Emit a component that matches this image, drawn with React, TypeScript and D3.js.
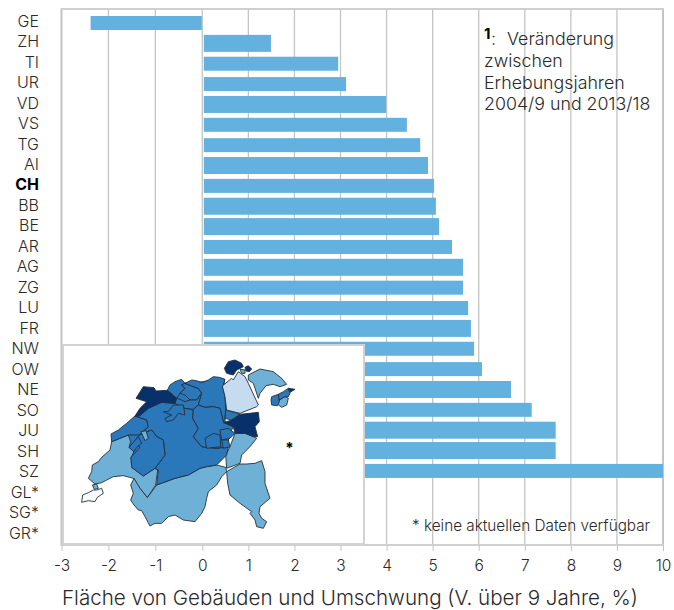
import * as d3 from "d3";
import { useRef, useEffect } from "react";

const cantons = ["GE","ZH","TI","UR","VD","VS","TG","AI","CH","BB","BE","AR","AG","ZG","LU","FR","NW","OW","NE","SO","JU","SH","SZ","GL*","SG*","GR*"];
const changes = [-2.38,1.49,2.95,3.12,3.99,4.44,4.73,4.9,5.03,5.07,5.14,5.42,5.66,5.66,5.77,5.83,5.9,6.07,6.7,7.15,7.67,7.67,10];
const tallRows = ["ZH","VD","AI","BB","BE","AG","FR","NE","JU","SH"];
const xTicks = [-3,-2,-1,0,1,2,3,4,5,6,7,8,9,10];
const noteLines = ["zwischen","Erhebungsjahren","2004/9 und 2013/18"];

// map outlines in its own 930x630 grid
const body = [[225,228],[322,151],[345,130],[495,118],[497,235],[505,320],[470,375],[290,435],[295,390],[215,340],[155,300]];
const vd = [[205,285],[212,305],[207,322],[222,335],[213,352],[215,382],[250,408],[285,385],[293,390],[287,435],[262,473],[240,445],[220,415],[190,407],[160,410],[140,420],[125,428],[105,432],[85,415],[95,395],[97,375],[115,365],[125,352],[150,330],[155,305]];
const ne = [[153,282],[175,270],[200,250],[225,228],[260,240],[265,260],[238,285],[205,285],[155,305]];
const ju = [[250,140],[282,143],[288,153],[322,151],[350,175],[345,190],[305,187],[265,205],[238,228],[225,228],[240,205],[260,185],[228,175]];
const be = [[225,228],[238,228],[265,205],[305,187],[345,190],[360,198],[375,205],[400,208],[398,235],[415,265],[400,290],[425,320],[470,325],[505,320],[500,345],[470,375],[440,380],[420,385],[385,405],[345,415],[290,435],[295,390],[285,385],[315,345],[310,300],[290,290],[275,270],[238,285],[265,260],[260,240]];
const fr = [[238,285],[275,270],[290,290],[310,300],[315,345],[285,385],[250,408],[215,382],[213,352],[240,322],[222,305]];
const frSpot = [[243,275],[258,272],[265,295],[255,302]];
const frEnclave = [[207,322],[222,305],[235,290],[245,310],[230,322],[222,335]];
const soPatch = [[310,215],[325,215],[340,195],[370,195],[375,225],[355,220],[340,240],[320,245],[315,235],[335,225],[320,220]];
const so = [[345,190],[350,175],[360,178],[375,185],[390,180],[410,180],[425,160],[415,195],[400,208],[375,205],[360,198]];
const bl = [[322,151],[330,135],[345,125],[365,118],[375,130],[365,135],[375,145],[360,160],[350,175]];
const blEast = [[375,130],[395,138],[415,145],[425,160],[410,180],[390,180],[375,165],[360,160],[375,145],[365,135]];
const ag = [[375,130],[395,120],[410,122],[425,128],[445,120],[460,110],[478,112],[495,118],[488,140],[495,170],[497,210],[495,235],[490,245],[480,205],[460,200],[435,202],[415,195],[425,160],[415,145],[395,138]];
const lu = [[400,208],[415,195],[435,202],[460,200],[480,205],[490,245],[520,260],[510,280],[505,300],[505,320],[470,325],[425,320],[400,290],[415,265],[398,235]];
const ow = [[435,295],[460,280],[480,285],[482,320],[440,325]];
const nw = [[480,270],[505,265],[525,280],[510,295],[485,300]];
const nwPatch = [[485,300],[505,300],[510,320],[490,325]];
const zh = [[487,138],[515,115],[520,120],[535,95],[555,110],[565,130],[595,195],[590,200],[540,220],[500,210],[495,170]];
const sh = [[493,85],[505,65],[525,60],[545,70],[550,80],[530,90],[520,105],[500,100]];
const shPiece = [[555,82],[565,77],[575,87],[568,95],[558,93]];
const tg = [[565,105],[600,87],[640,95],[665,115],[680,133],[660,140],[640,133],[618,137],[600,160],[595,175],[580,130],[565,120]];
const tgPiece = [[540,87],[555,90],[555,100],[545,100]];
const arWest = [[635,170],[655,163],[658,185],[652,197],[635,195],[633,180]];
const arRound = [[658,180],[675,170],[685,175],[680,195],[665,202],[653,193]];
const arEast = [[655,163],[670,155],[685,145],[690,160],[685,170],[675,170],[658,180]];
const aiTip = [[685,145],[705,148],[690,157]];
const sz = [[490,248],[515,240],[540,223],[595,217],[598,245],[585,260],[593,290],[580,290],[555,280],[525,280],[520,260]];
const zg = [[497,210],[540,222],[515,240],[495,235]];
const ur = [[525,280],[555,280],[580,290],[590,295],[570,320],[545,345],[540,370],[500,385],[497,345],[510,320]];
const ti = [[500,395],[540,372],[560,372],[585,370],[605,362],[615,395],[615,430],[630,475],[600,500],[597,520],[605,535],[620,545],[610,565],[590,560],[585,540],[570,520],[575,515],[540,490],[510,465],[503,430]];
const vs = [[290,435],[345,415],[385,405],[420,385],[440,380],[470,375],[497,382],[500,395],[485,410],[470,435],[445,455],[440,475],[435,500],[425,520],[405,545],[370,540],[345,525],[325,530],[305,550],[285,550],[270,558],[255,530],[245,512],[235,510],[222,495],[212,480],[220,460],[212,435],[222,415],[240,445],[262,473]];
const ge = [[68,465],[85,458],[100,450],[110,450],[125,445],[130,460],[112,472],[105,485],[85,482],[65,487]];
const gePiece = [[97,435],[110,432],[115,445],[103,448]];

const DARK = "#08306b";
const MID = "#2a78b9";
const LIGHT = "#6fb0d6";
const PALE = "#c6dbef";
const BLANK = "#f7fbff";

const mapLayers: [number[][], string][] = [
  [vd, LIGHT], [vs, LIGHT], [ti, LIGHT], [ur, LIGHT], [tg, LIGHT], [tgPiece, LIGHT], [arRound, LIGHT], [gePiece, LIGHT],
  [ne, MID], [be, MID], [fr, MID], [frEnclave, MID], [frSpot, LIGHT], [bl, MID], [blEast, MID], [so, MID], [soPatch, MID], [ag, MID], [lu, MID], [ow, MID], [nw, MID], [nwPatch, MID], [zg, MID], [arWest, MID], [arEast, MID],
  [zh, PALE], [ge, BLANK],
  [ju, DARK], [sz, DARK], [sh, DARK], [shPiece, DARK], [aiTip, DARK],
];

const FONT = "Inter, 'Liberation Sans', sans-serif";
const TEXT = "#2a2a2a";
const GRID = "#c4c4c4";

export default function App() {
  const width = 674;
  const height = 610;
  const top = 10;
  const bottom = 545;
  const gx = useRef<SVGGElement>(null);
  const gy = useRef<SVGGElement>(null);

  const x = d3.scaleLinear().domain([-3, 0, 10]).range([61.5, 202.3, 663]);
  const yBar = d3.scalePoint().domain(cantons).range([23, 532]);
  const yLabel = d3.scalePoint().domain(cantons).range([21, 533]);
  const mapX = d3.scaleLinear().domain([0, 930]).range([60, 370]);
  const mapY = d3.scaleLinear().domain([0, 630]).range([340, 550]);
  const outline = d3.line<number[]>().x((d) => mapX(d[0])).y((d) => mapY(d[1]));

  useEffect(() => {
    const ax = d3.select(gx.current!);
    ax.call(d3.axisBottom(x).tickValues(xTicks).tickFormat((d) => String(d)).tickSize(6).tickPadding(9) as any);
    ax.select(".domain").remove();
    ax.selectAll("line").attr("stroke", GRID);
    ax.selectAll("text").attr("font-size", 15.5).attr("font-family", FONT).attr("font-weight", 300).attr("fill", TEXT);

    const ay = d3.select(gy.current!);
    ay.call(d3.axisLeft(yLabel).tickSize(0).tickPadding(0) as any);
    ay.select(".domain").remove();
    ay.selectAll("text")
      .attr("font-size", 16)
      .attr("font-family", FONT)
      .attr("fill", (d: any) => (d === "CH" ? "#000" : TEXT))
      .attr("font-weight", (d: any) => (d === "CH" ? 700 : 300));
  }, []);

  return (
    <svg
      width={width}
      height={height}
      style={{ position: "absolute", left: 0, top: 0, background: "#fff" }}
    >
      {xTicks.map((t) => (
        <line key={t} x1={x(t)} x2={x(t)} y1={top} y2={bottom} stroke={GRID} strokeWidth={t === -3 || t === 10 ? 2 : 1.3} />
      ))}
      <line x1={60.5} x2={664} y1={top - 1} y2={top - 1} stroke="#cfcfcf" strokeWidth={2} />
      <line x1={60.5} x2={664} y1={bottom} y2={bottom} stroke="#cfcfcf" strokeWidth={2} />

      {changes.map((v, i) => {
        const c = cantons[i];
        const h = tallRows.includes(c) ? 17 : 14;
        const x0 = v < 0 ? x(v) : x(0) + 1.5;
        const x1 = v < 0 ? x(0) - 0.5 : x(v);
        return <rect key={c} x={x0} y={yBar(c)! - h / 2} width={x1 - x0} height={h} fill="#63b1de" />;
      })}

      <g ref={gx} transform={`translate(0,${bottom})`} />
      <g ref={gy} transform="translate(39,0)" />

      <rect x={63} y={345} width={301} height={199} fill="#fff" stroke="#d2d2d2" strokeWidth={2} />
      <path d={outline(body) + "Z"} fill={MID} />
      {mapLayers.map(([shape, fill], i) => (
        <path key={i} d={outline(shape) + "Z"} fill={fill} stroke="#25303c" strokeWidth={0.9} strokeLinejoin="round" />
      ))}
      <text x={mapX(688)} y={mapY(315) + 8} textAnchor="middle" fontFamily={FONT} fontWeight={700} fontSize={15} fill="#000">*</text>

      <g fontFamily={FONT} fontWeight={300} fontSize={17.8} fill={TEXT}>
        <text x={484} y={39} fontWeight={700} fontSize={15} fill="#000">1</text>
        <text x={491} y={45}>:</text>
        <text x={507} y={45}>Veränderung</text>
        {noteLines.map((line, i) => (
          <text key={line} x={484} y={67 + i * 21.5}>{line}</text>
        ))}
      </g>
      <text x={412} y={531} fontFamily={FONT} fontWeight={300} fontSize={15.3} fill={TEXT}>* keine aktuellen Daten verfügbar</text>
      <text x={350} y={605} textAnchor="middle" fontFamily={FONT} fontWeight={300} fontSize={20.6} fill={TEXT}>
        Fläche von Gebäuden und Umschwung (V. über 9 Jahre, %)
      </text>
    </svg>
  );
}
